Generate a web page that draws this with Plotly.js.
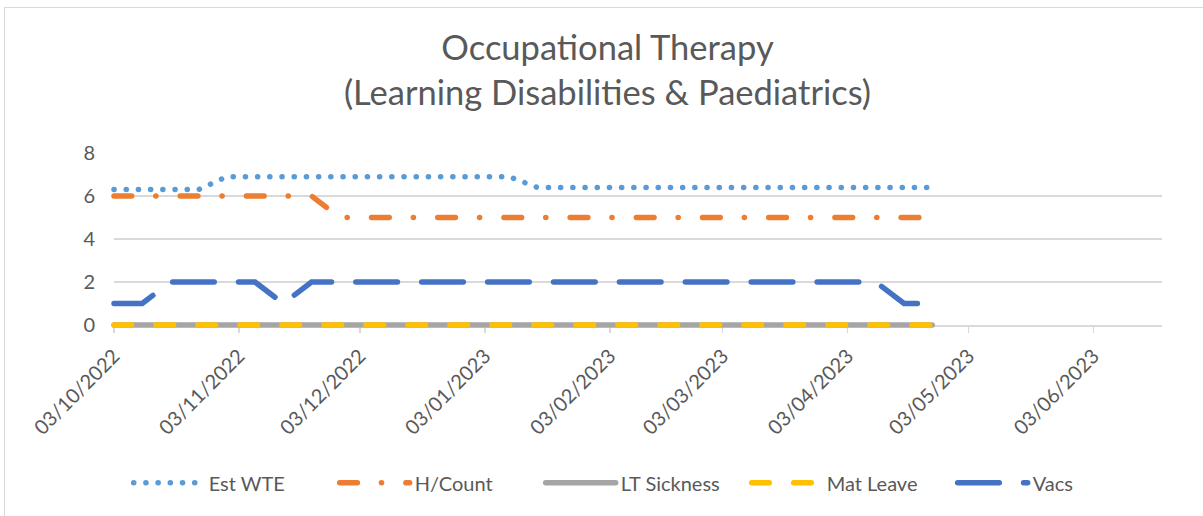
<!DOCTYPE html>
<html>
<head>
<meta charset="utf-8">
<script src="https://cdn.plot.ly/plotly-3.0.1.min.js"></script>
<style>
  html, body { margin: 0; padding: 0; background: #fff; overflow: hidden; }
  #chart { width: 1203px; height: 516px; }
  #frame { position: absolute; left: 4px; top: 7px; width: 1400px; height: 700px;
           border-left: 1.5px solid #D9D9D9; border-top: 1.5px solid #D9D9D9; pointer-events: none; }
  path.js-line { stroke-linecap: round !important; }
  #chart .cartesianlayer g, #chart .cartesianlayer path { clip-path: none !important; }
</style>
</head>
<body>
<div id="chart"></div>
<div id="frame"></div>
<script>
const dates = ["2022-10-03","2022-10-10","2022-10-17","2022-10-24","2022-10-31","2022-11-07","2022-11-14","2022-11-21","2022-11-28","2022-12-05",
               "2022-12-12","2022-12-19","2022-12-26","2023-01-02","2023-01-09","2023-01-16","2023-01-23","2023-01-30","2023-02-06","2023-02-13",
               "2023-02-20","2023-02-27","2023-03-06","2023-03-13","2023-03-20","2023-03-27","2023-04-03","2023-04-10","2023-04-17","2023-04-24"];
const estWTE = [6.3,6.3,6.3,6.3,6.9,6.9,6.9,6.9,6.9,6.9,6.9,6.9,6.9,6.9,6.9,6.4,6.4,6.4,6.4,6.4,6.4,6.4,6.4,6.4,6.4,6.4,6.4,6.4,6.4,6.4];
const hCount = [6,6,6,6,6,6,6,6,5,5,5,5,5,5,5,5,5,5,5,5,5,5,5,5,5,5,5,5,5,5];
const ltSickness = [0,0,0,0,0,0,0,0,0,0,0,0,0,0,0,0,0,0,0,0,0,0,0,0,0,0,0,0,0,0];
const matLeave = [0,0,0,0,0,0,0,0,0,0,0,0,0,0,0,0,0,0,0,0,0,0,0,0,0,0,0,0,0,0];
const vacs = [1,1,2,2,2,2,1,2,2,2,2,2,2,2,2,2,2,2,2,2,2,2,2,2,2,2,2,2,1,1];
const tickVals = ["2022-10-03","2022-11-03","2022-12-03","2023-01-03","2023-02-03","2023-03-03","2023-04-03","2023-05-03","2023-06-03"];
const tickText = ["03/10/2022","03/11/2022","03/12/2022","03/01/2023","03/02/2023","03/03/2023","03/04/2023","03/05/2023","03/06/2023"];
const yTicks = [0,2,4,6,8];

const FONT = "Lato, 'Open Sans', sans-serif";
const TXT = "#595959";
const W = 5.5;

const traces = [
  {x: dates, y: estWTE, name: "Est WTE", mode: "lines", line: {color: "#5B9BD5", width: W, dash: "0.1px,12.1px"}},
  {x: dates, y: hCount, name: "H/Count", mode: "lines", line: {color: "#ED7D31", width: W, dash: "17.7px,24.1px,0.1px,24.3px"}},
  {x: dates, y: ltSickness, name: "LT Sickness", mode: "lines", line: {color: "#A5A5A5", width: W}},
  {x: dates, y: matLeave, name: "Mat Leave", mode: "lines", line: {color: "#FFC000", width: W, dash: "17.6px,24.4px"}},
  {x: dates, y: vacs, name: "Vacs", mode: "lines", line: {color: "#4472C4", width: W, dash: "41.6px,24.3px"}}
];

const layout = {
  width: 1203, height: 516,
  margin: {l: 114, r: 41, t: 153, b: 191, pad: 0},
  paper_bgcolor: "#ffffff", plot_bgcolor: "#ffffff",
  font: {family: FONT, color: TXT, size: 20},
  title: {text: "Occupational Therapy<br>(Learning Disabilities &amp; Paediatrics)", x: 0.505, xanchor: "center",
          y: 0.883, yanchor: "top", yref: "container", font: {family: FONT, size: 34.5, color: TXT}},
  xaxis: {type: "date", range: ["2022-10-03", "2023-06-20"], tickmode: "array", tickvals: tickVals, ticktext: tickText,
          tickangle: -45, ticks: "outside", ticklen: 6, tickwidth: 1.5, tickcolor: "#D9D9D9",
          showgrid: false, showline: true, linecolor: "#D9D9D9", linewidth: 1.5, zeroline: false, layer: "below traces",
          tickfont: {family: FONT, size: 20, color: TXT}, ticklabelstandoff: 4, fixedrange: true},
  yaxis: {range: [0, 8], tickmode: "array", tickvals: yTicks, showgrid: true, gridcolor: "#D9D9D9", gridwidth: 1.5,
          zeroline: false, showline: false, ticks: "", tickfont: {family: FONT, size: 20, color: TXT},
          ticklabelstandoff: 18, fixedrange: true, layer: "below traces"},
  showlegend: true,
  legend: {orientation: "h", x: 0.014, xanchor: "left", y: -0.917, yanchor: "middle",
           font: {family: FONT, size: 20, color: TXT}, itemwidth: 70, entrywidth: 121, entrywidthmode: "pixels",
           bgcolor: "rgba(0,0,0,0)", traceorder: "normal"}
};

Plotly.newPlot("chart", traces, layout, {displayModeBar: false, staticPlot: true});
</script>
</body>
</html>
